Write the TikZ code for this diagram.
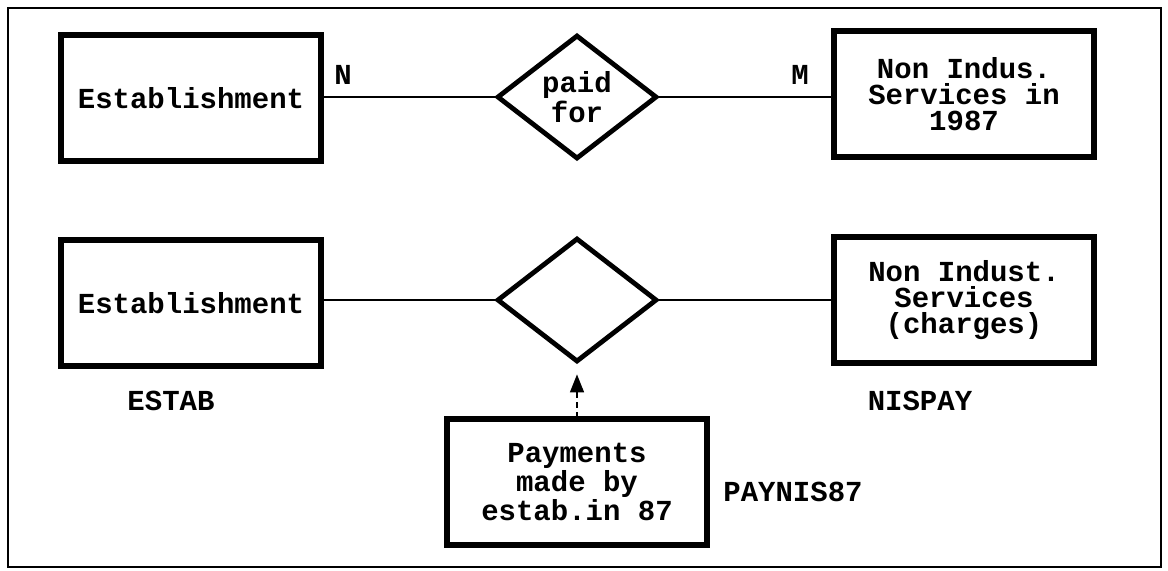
\documentclass[tikz,border=0pt]{standalone}
\usepackage{fontspec}
\setmonofont{Liberation Mono}
\usetikzlibrary{arrows.meta,positioning,shapes.geometric}

\begin{document}
\begin{tikzpicture}[
  x=0.5pt, y=-0.5pt,
  font=\ttfamily\bfseries\fontsize{14.5}{13}\selectfont,
  entity/.style={draw, line width=3pt, minimum width=130pt, minimum height=63pt, align=center, inner sep=2pt},
  rel/.style={draw, diamond, line width=2.4pt, minimum width=80pt, minimum height=62pt, inner sep=0pt, align=center},
  conn/.style={line width=1.4pt},
  ident/.style={densely dashed, line width=0.8pt, {Triangle[length=9pt, width=7pt]}-, shorten <=5pt},
  lab/.style={inner sep=0pt}
]
\useasboundingbox (0,0) rectangle (1168,570);
\draw[line width=0.8pt] (8,8) rectangle (1161,567);

% first model: many-to-many relationship
\node[entity] (estab1) at (191,98) {Establishment};
\node[rel] (paid) at (577,97) {paid\\for};
\node[entity] (nis1) at (964,94) {Non Indus.\\Services in\\1987};
\draw[conn] (estab1.east |- paid.west) -- (paid.west);
\draw[conn] (paid.east) -- (nis1.west |- paid.east);
\node[lab] (cardn) at (343,75) {N};
\node[lab] (cardm) at (800,75) {M};

% second model: resolved with an associative entity
\node[entity] (estab2) at (191,303) {Establishment};
\node[rel] (link) at (577,300) {};
\node[entity] (nis2) at (964,300) {Non Indust.\\Services\\(charges)};
\draw[conn] (estab2.east |- link.west) -- (link.west);
\draw[conn] (link.east) -- (nis2.west |- link.east);
\node[entity] (pay) at (577,482) {Payments\\made by\\estab.in 87};
\draw[ident] (link.south) -- (pay.north);

% table names
\node[lab] (tabestab) at (171,401) {ESTAB};
\node[lab] (tabnis) at (920,401) {NISPAY};
\node[lab] (tabpay) at (793,492) {PAYNIS87};
\end{tikzpicture}
\end{document}
